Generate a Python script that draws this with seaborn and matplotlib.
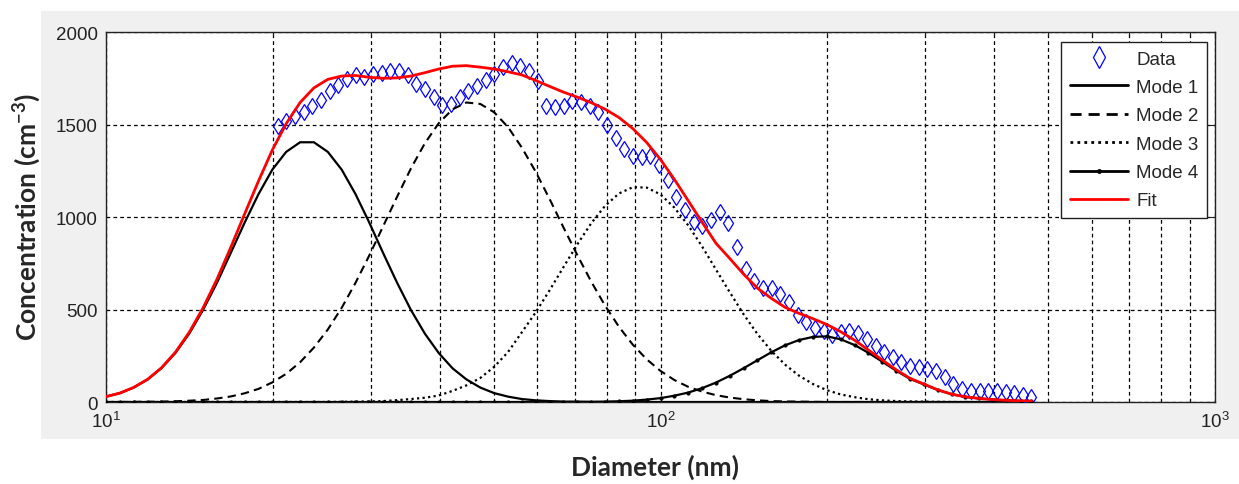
import matplotlib
matplotlib.use("Agg")
import matplotlib.pyplot as plt
import seaborn as sns
from matplotlib.patches import Rectangle
from matplotlib.ticker import LogLocator, FixedLocator, NullFormatter
from matplotlib.lines import Line2D

# measured size distribution (blue diamonds)
data_diam = [20.4, 21.15, 21.92, 22.73, 23.56, 24.42, 25.32, 26.24, 27.20, 28.20,
             29.23, 30.30, 31.42, 32.57, 33.76, 35.00, 36.28, 37.61, 38.98, 40.41,
             41.89, 43.43, 45.02, 46.67, 48.38, 50.15, 51.99, 53.90, 55.87, 57.92,
             60.04, 62.24, 64.52, 66.88, 69.33, 71.87, 74.50, 77.23, 80.06, 83.00,
             86.04, 89.19, 92.45, 95.84, 99.36, 103.0, 106.8, 110.7, 114.7, 118.9,
             123.3, 127.8, 132.5, 137.3, 142.4, 147.6, 153.0, 158.6, 164.4, 170.4,
             176.7, 183.1, 189.8, 196.8, 204.0, 211.4, 219.2, 227.2, 235.5, 244.2,
             253.2, 262.4, 272.0, 282.0, 292.3, 303.0, 314.2, 325.7, 337.6, 350.0,
             362.8, 376.1, 389.9, 404.1, 419.0, 434.3, 450.2, 466.7]
data_conc = [1490, 1520, 1545, 1565, 1600, 1635, 1680, 1715, 1745, 1765,
             1755, 1775, 1780, 1790, 1790, 1770, 1720, 1690, 1650, 1605,
             1610, 1650, 1680, 1710, 1740, 1775, 1810, 1830, 1815, 1790,
             1735, 1600, 1595, 1600, 1625, 1620, 1600, 1570, 1495, 1425,
             1370, 1330, 1324, 1330, 1280, 1200, 1110, 1040, 975, 950,
             985, 1025, 965, 840, 720, 655, 615, 615, 585, 540,
             470, 435, 400, 385, 360, 380, 384, 375, 340, 305,
             270, 243, 216, 195, 189, 180, 165, 135, 97, 72,
             62, 60, 59, 58, 54, 48, 40, 25]

# fitted modes at 40 points per decade
mode_diam = [10.00, 10.59, 11.22, 11.89, 12.59, 13.34, 14.13, 14.96, 15.85, 16.79,
             17.78, 18.84, 19.95, 21.13, 22.39, 23.71, 25.12, 26.61, 28.18, 29.85,
             31.62, 33.50, 35.48, 37.58, 39.81, 42.17, 44.67, 47.32, 50.12, 53.09,
             56.23, 59.57, 63.10, 66.83, 70.79, 74.99, 79.43, 84.14, 89.13, 94.41,
             100.0, 105.9, 112.2, 118.9, 125.9, 133.4, 141.3, 149.6, 158.5, 167.9,
             177.8, 188.4, 199.5, 211.3, 223.9, 237.1, 251.2, 266.1, 281.8, 298.5,
             316.2, 335.0, 354.8, 375.8, 398.1, 421.7, 446.7, 466.7]
mode1 = [29, 48, 78, 122, 183, 265, 370, 497, 644, 806,
         969, 1124, 1256, 1352, 1404, 1404, 1352, 1256, 1124, 969,
         804, 644, 497, 370, 265, 182, 122, 78, 48, 29,
         16, 9, 5, 2, 1, 0, 0, 0, 0, 0,
         0, 0, 0, 0, 0, 0, 0, 0, 0, 0,
         0, 0, 0, 0, 0, 0, 0, 0, 0, 0,
         0, 0, 0, 0, 0, 0, 0, 0]
mode2 = [0, 0, 1, 1, 2, 4, 7, 11, 19, 30,
         47, 71, 106, 152, 215, 294, 392, 509, 644, 793,
         951, 1110, 1263, 1398, 1507, 1582, 1619, 1611, 1566, 1486,
         1375, 1244, 1097, 944, 794, 651, 521, 407, 310, 231,
         168, 119, 82, 56, 37, 24, 15, 9, 5, 3,
         2, 1, 0, 0, 0, 0, 0, 0, 0, 0,
         0, 0, 0, 0, 0, 0, 0, 0]
mode3 = [0, 0, 0, 0, 0, 0, 0, 0, 0, 0,
         0, 0, 0, 0, 0, 0, 0, 1, 2, 3,
         5, 10, 16, 23, 35, 60, 90, 130, 190, 270,
         377, 485, 604, 729, 852, 966, 1060, 1127, 1161, 1159,
         1122, 1051, 955, 840, 716, 592, 473, 367, 276, 201,
         142, 97, 64, 41, 26, 15, 9, 5, 3, 2,
         1, 0, 0, 0, 0, 0, 0, 0]
mode4 = [0, 0, 0, 0, 0, 0, 0, 0, 0, 0,
         0, 0, 0, 0, 0, 0, 0, 0, 0, 0,
         0, 0, 0, 0, 0, 0, 0, 0, 0, 0,
         0, 0, 0, 0, 1, 1, 2, 4, 7, 13,
         21, 34, 51, 75, 105, 142, 183, 226, 269, 307,
         335, 352, 355, 339, 308, 266, 218, 169, 125, 95,
         65, 42, 28, 19, 13, 9, 6, 5]
fit = [29, 48, 79, 123, 185, 269, 377, 508, 663, 836,
       1016, 1195, 1362, 1504, 1619, 1698, 1744, 1762, 1765, 1755,
       1750, 1752, 1762, 1780, 1800, 1815, 1818, 1810, 1800, 1785,
       1768, 1738, 1706, 1675, 1648, 1618, 1583, 1538, 1478, 1403,
       1311, 1204, 1088, 971, 858, 775, 690, 615, 560, 511,
       479, 450, 419, 380, 334, 281, 227, 174, 128, 97,
       66, 42, 28, 19, 13, 9, 6, 5]

sns.set_style("white")
plt.rcParams['font.family'] = ['Liberation Sans', 'DejaVu Sans']
plt.rcParams['mathtext.fontset'] = 'custom'
plt.rcParams['mathtext.rm'] = 'Liberation Sans'
plt.rcParams['mathtext.bf'] = 'Lato:bold'

W, H = 1239, 485
fig = plt.figure(figsize=(W / 100, H / 100), dpi=100)
fig.patches.append(Rectangle((41 / W, 1 - 440 / H), (W - 41) / W, (440 - 12) / H,
                             transform=fig.transFigure, facecolor='#f0f0f0',
                             edgecolor='none', zorder=-10))
ax = fig.add_axes([106 / W, 1 - 403 / H, (1215 - 106) / W, 370 / H])
ax.set_facecolor('white')

blue = '#0000ff'
sns.lineplot(x=data_diam, y=data_conc, ax=ax, marker='d', linestyle='',
             markersize=8.5, markerfacecolor='none', markeredgecolor=blue,
             markeredgewidth=0.9, zorder=3)
sns.lineplot(x=mode_diam, y=mode1, ax=ax, color='black', linewidth=1.6, zorder=4)
sns.lineplot(x=mode_diam, y=mode2, ax=ax, color='black', linewidth=1.5,
             linestyle=(0, (4, 2.5)), zorder=4)
sns.lineplot(x=mode_diam, y=mode3, ax=ax, color='black', linewidth=1.6,
             linestyle=(0, (1, 1.5)), zorder=4)
sns.lineplot(x=mode_diam, y=mode4, ax=ax, color='black', linewidth=1.6,
             marker='.', markersize=4.5, markeredgecolor='black', zorder=4)
sns.lineplot(x=mode_diam, y=fit, ax=ax, color='red', linewidth=2, zorder=5)

ax.set_xscale('log')
ax.set_xlim(10, 1000)
ax.set_ylim(0, 2000)
ax.xaxis.set_major_locator(FixedLocator([10, 100, 1000]))
ax.xaxis.set_minor_locator(LogLocator(base=10, subs=range(2, 10)))
ax.xaxis.set_minor_formatter(NullFormatter())
ax.set_xticklabels(['$10^{1}$', '$10^{2}$', '$10^{3}$'])
ax.set_yticks([0, 500, 1000, 1500, 2000])
ax.set_yticklabels(['0', '500', '1000', '1500', '2000'])

grid_kw = dict(color='black', linestyle=(0, (3, 2.5)), linewidth=0.9)
ax.grid(True, which='major', axis='both', **grid_kw)
ax.grid(True, which='minor', axis='x', **grid_kw)
ax.set_axisbelow(True)

ax.tick_params(which='both', direction='in', top=True, right=True,
               labelsize=13.5, colors='#222222', width=0.8)
ax.tick_params(which='major', length=5, pad=6)
ax.tick_params(which='minor', length=3)
for s in ax.spines.values():
    s.set_color('#222222')
    s.set_linewidth(1)
ax.set_xlabel('')
ax.set_ylabel('')

handles = [
    Line2D([], [], marker='d', linestyle='', markersize=11, markerfacecolor='none',
           markeredgecolor=blue, markeredgewidth=0.9),
    Line2D([], [], color='black', linewidth=2),
    Line2D([], [], color='black', linewidth=2, linestyle=(0, (4, 2.5))),
    Line2D([], [], color='black', linewidth=2, linestyle=(0, (1, 1.5))),
    Line2D([], [], color='black', linewidth=2, marker='.', markersize=5),
    Line2D([], [], color='red', linewidth=2),
]
labels = ['Data', 'Mode 1', 'Mode 2', 'Mode 3', 'Mode 4', 'Fit']
leg = ax.legend(handles, labels, loc='upper right',
                bbox_to_anchor=((1207 - 106) / 1109, (403 - 43) / 370),
                frameon=True, fancybox=False, framealpha=1, edgecolor='#222222',
                fontsize=13.5, handlelength=3.1, labelspacing=0.6,
                borderpad=0.45, handletextpad=0.45, borderaxespad=0)
leg.get_frame().set_linewidth(1)
leg.set_zorder(10)

fig.text(655 / W, 1 - 467 / H, 'Diameter (nm)', ha='center', va='center',
         fontsize=19, fontweight='bold', family=['Lato', 'DejaVu Sans'])
fig.text(27 / W, 1 - 217 / H, r'Concentration (cm$^{\mathbf{-3}}$)', ha='center',
         va='center', rotation=90, fontsize=19, fontweight='bold',
         family=['Lato', 'DejaVu Sans'])

fig.savefig('out.png', dpi=100, facecolor='white')
